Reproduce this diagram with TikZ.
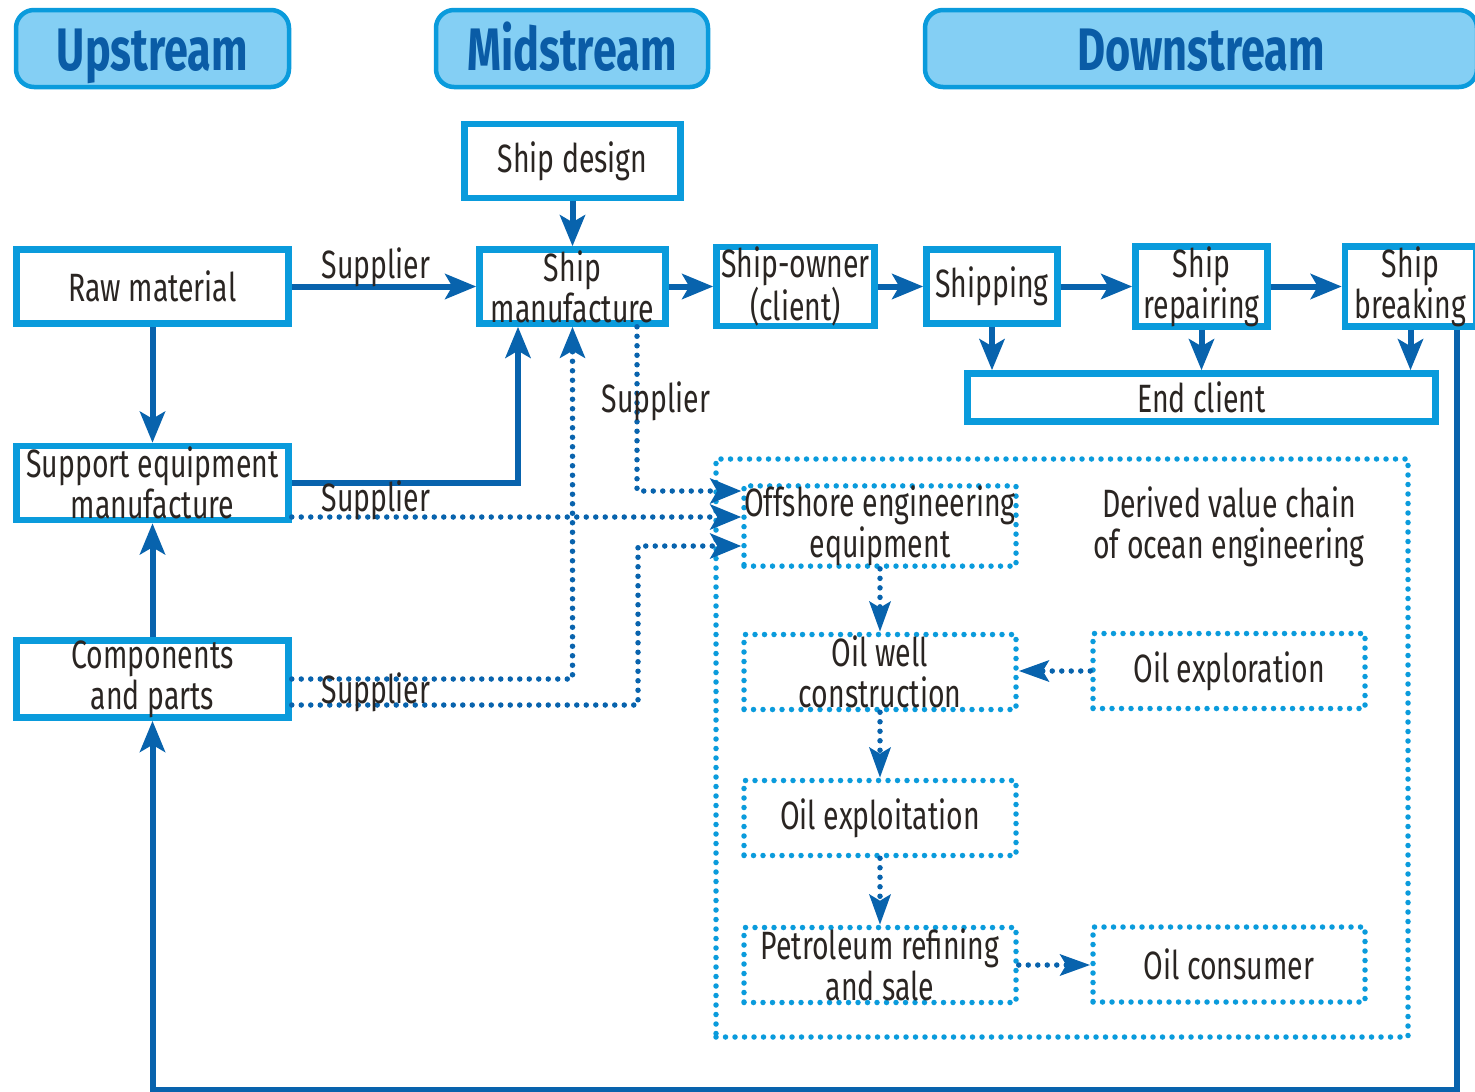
\documentclass[tikz,border=0pt]{standalone}
\usepackage{fontspec}
\setmainfont{Fira Sans}[FakeStretch=0.72]
\usetikzlibrary{arrows.meta,calc}
\definecolor{boxc}{HTML}{0A9BDC}
\definecolor{arrc}{HTML}{0863AD}
\definecolor{hdrfill}{HTML}{84CFF4}
\definecolor{hdrtext}{HTML}{0A5CA6}
\definecolor{txt}{HTML}{2A2522}
\begin{document}
\begin{tikzpicture}[x=1pt,y=-1pt,
  txtfont/.style={font=\fontsize{39.5}{41}\selectfont, text=txt},
  box/.style={draw=boxc, line width=6.5pt, fill=white, align=center, inner sep=0pt, txtfont, minimum height=74pt},
  hdr/.style={draw=boxc, line width=4.5pt, fill=hdrfill, rounded corners=18pt, inner sep=0pt,
    minimum height=77pt, text height=48pt, text depth=5pt,
    font=\fontsize{60}{62}\selectfont\bfseries, text=hdrtext},
  dbox/.style={draw=boxc, line width=5.5pt, dash pattern=on 0pt off 9.5pt, line cap=round, align=center,
    inner sep=0pt, txtfont, minimum width=272pt, minimum height=75pt},
  arr/.style={draw=arrc, line width=6pt, -{Stealth[length=31pt,width=25pt,inset=7pt]}},
  darr/.style={draw=arrc, line width=5.5pt, dash pattern=on 0pt off 9.5pt, line cap=round,
    -{Stealth[length=31pt,width=25pt,inset=7pt]}},
  darr2/.style={draw=arrc, line width=5.5pt, dash pattern=on 0pt off 9.5pt, line cap=round,
    -{Stealth[length=30pt,width=21pt,inset=6pt]}},
  lbl/.style={txtfont, inner sep=0pt}
]
\useasboundingbox (0,0) rectangle (1475,1092);

% headers
\node[hdr, minimum width=273pt] (up) at (152.5,48.5) {Upstream};
\node[hdr, minimum width=272pt] (mid) at (572,48.5) {Midstream};
\node[hdr, minimum width=552pt] (down) at (1201,48.5) {Downstream};

% big derived box
\node[dbox, minimum width=692pt, minimum height=578pt] (der) at (1062,748) {};

% main chain boxes
\node[box, minimum width=216pt] (sd) at (572.5,161) {Ship design};
\node[box, minimum width=272pt] (raw) at (152.5,286.5) {Raw material};
\node[box, minimum width=186pt] (sm) at (572.5,286.5) {Ship\\manufacture};
\node[box, minimum width=158pt] (so) at (795.5,286.5) {Ship-owner\\(client)};
\node[box, minimum width=131pt] (shp) at (992,286.5) {Shipping};
\node[box, minimum width=132pt] (rep) at (1201.5,286.5) {Ship\\repairing};
\node[box, minimum width=131pt] (brk) at (1410.5,286.5) {Ship\\breaking};
\node[box, minimum width=468pt, minimum height=48pt] (end) at (1201.5,397.5) {End client};
\node[box, minimum width=272pt] (sup) at (152.5,483) {Support equipment\\manufacture};
\node[box, minimum width=272pt] (comp) at (152.5,679) {Components\\and parts};

% derived chain boxes
\node[dbox] (off) at (880,526) {Offshore engineering\\equipment};
\node[lbl, align=center] (dvc) at (1229,527) {Derived value chain\\of ocean engineering};
\node[dbox] (well) at (880,672) {Oil well\\construction};
\node[dbox] (expl) at (1229,671) {Oil exploration};
\node[dbox] (exploit) at (880,818) {Oil exploitation};
\node[dbox] (pet) at (880,965) {Petroleum refining\\and sale};
\node[dbox] (cons) at (1229,964.5) {Oil consumer};

% solid arrows
\draw[arr] (raw.east) -- (sm.west);
\draw[arr] (sd.south) -- (sm.north);
\draw[arr] (sm.east) -- (so.west);
\draw[arr] (so.east) -- (shp.west);
\draw[arr] (shp.east) -- (rep.west);
\draw[arr] (rep.east) -- (brk.west);
\draw[arr] (raw.south) -- (sup.north);
\draw[arr] (comp.north) -- (sup.south);
\draw[arr] (shp.south) -- (shp.south |- end.north);
\draw[arr] (rep.south) -- (rep.south |- end.north);
\draw[arr] (brk.south) -- (brk.south |- end.north);
\draw[arr] (sup.east) -| ($(sm.south)+(-54.5,0)$);

% loop from ship breaking back to components
\coordinate (L1) at (1457,1090);
\draw[arr] ($(brk.south)+(46.5,0)$) -- (L1) -| (comp.south);

% dotted supplier arrows
\coordinate (s1) at ($(sup.east)+(0,34)$);
\draw[darr] (s1) -- (off.west |- s1);
\coordinate (c1) at ($(comp.east)+(0,0)$);
\draw[darr] (c1) -| (sm.south);
\coordinate (c2) at ($(comp.east)+(0,26)$);
\coordinate (k2) at (638,546);
\draw[darr] (c2) -| (k2) -- (off.west |- k2);
\coordinate (k1) at (637,491);
\draw[darr] (sm.south -| k1) -- (k1) -- (off.west |- k1);

% derived arrows
\draw[darr2] (off.south) -- (well.north);
\draw[darr2] (expl.west) -- (expl.west -| well.east);
\draw[darr2] (well.south) -- (exploit.north);
\draw[darr2] (exploit.south) -- (pet.north);
\draw[darr2] (pet.east) -- (pet.east -| cons.west);

% labels
\node[lbl] (l1) at (376,267) {Supplier};
\node[lbl] (l2) at (376,500) {Supplier};
\node[lbl] (l3) at (376,692) {Supplier};
\node[lbl] (l4) at (656,401) {Supplier};
\end{tikzpicture}
\end{document}
